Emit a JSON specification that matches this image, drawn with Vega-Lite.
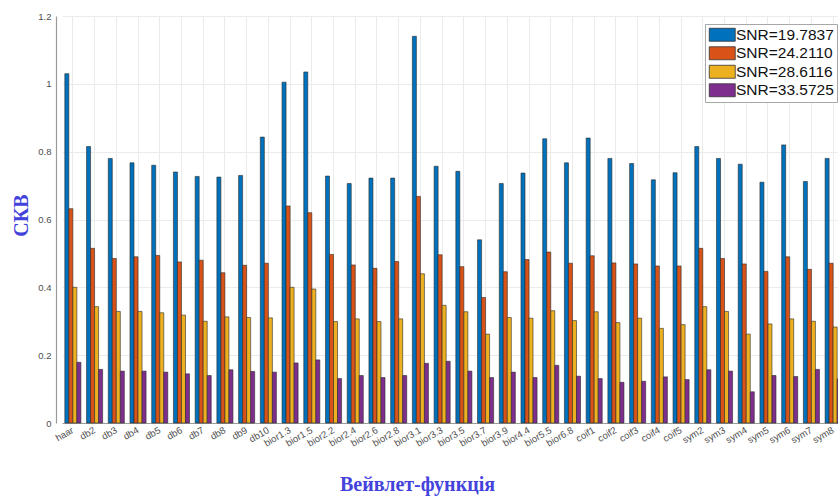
{
  "$schema": "https://vega.github.io/schema/vega-lite/v6.json",
  "width": 782,
  "height": 407,
  "autosize": {"type": "none"},
  "padding": {"left": 56, "top": 16, "right": 0, "bottom": 73},
  "background": "white",
  "config": {
    "view": {"stroke": null},
    "font": "Liberation Sans"
  },
  "datasets": {
    "rmse": [
      {"w": "haar", "s": "SNR=19.7837", "v": 1.03},
      {"w": "haar", "s": "SNR=24.2110", "v": 0.632},
      {"w": "haar", "s": "SNR=28.6116", "v": 0.40},
      {"w": "haar", "s": "SNR=33.5725", "v": 0.179},
      {"w": "db2", "s": "SNR=19.7837", "v": 0.815},
      {"w": "db2", "s": "SNR=24.2110", "v": 0.515},
      {"w": "db2", "s": "SNR=28.6116", "v": 0.343},
      {"w": "db2", "s": "SNR=33.5725", "v": 0.158},
      {"w": "db3", "s": "SNR=19.7837", "v": 0.78},
      {"w": "db3", "s": "SNR=24.2110", "v": 0.485},
      {"w": "db3", "s": "SNR=28.6116", "v": 0.329},
      {"w": "db3", "s": "SNR=33.5725", "v": 0.153},
      {"w": "db4", "s": "SNR=19.7837", "v": 0.767},
      {"w": "db4", "s": "SNR=24.2110", "v": 0.49},
      {"w": "db4", "s": "SNR=28.6116", "v": 0.329},
      {"w": "db4", "s": "SNR=33.5725", "v": 0.153},
      {"w": "db5", "s": "SNR=19.7837", "v": 0.76},
      {"w": "db5", "s": "SNR=24.2110", "v": 0.494},
      {"w": "db5", "s": "SNR=28.6116", "v": 0.325},
      {"w": "db5", "s": "SNR=33.5725", "v": 0.15},
      {"w": "db6", "s": "SNR=19.7837", "v": 0.74},
      {"w": "db6", "s": "SNR=24.2110", "v": 0.475},
      {"w": "db6", "s": "SNR=28.6116", "v": 0.318},
      {"w": "db6", "s": "SNR=33.5725", "v": 0.145},
      {"w": "db7", "s": "SNR=19.7837", "v": 0.727},
      {"w": "db7", "s": "SNR=24.2110", "v": 0.48},
      {"w": "db7", "s": "SNR=28.6116", "v": 0.30},
      {"w": "db7", "s": "SNR=33.5725", "v": 0.14},
      {"w": "db8", "s": "SNR=19.7837", "v": 0.725},
      {"w": "db8", "s": "SNR=24.2110", "v": 0.443},
      {"w": "db8", "s": "SNR=28.6116", "v": 0.313},
      {"w": "db8", "s": "SNR=33.5725", "v": 0.157},
      {"w": "db9", "s": "SNR=19.7837", "v": 0.73},
      {"w": "db9", "s": "SNR=24.2110", "v": 0.465},
      {"w": "db9", "s": "SNR=28.6116", "v": 0.311},
      {"w": "db9", "s": "SNR=33.5725", "v": 0.152},
      {"w": "db10", "s": "SNR=19.7837", "v": 0.843},
      {"w": "db10", "s": "SNR=24.2110", "v": 0.471},
      {"w": "db10", "s": "SNR=28.6116", "v": 0.31},
      {"w": "db10", "s": "SNR=33.5725", "v": 0.15},
      {"w": "bior1.3", "s": "SNR=19.7837", "v": 1.005},
      {"w": "bior1.3", "s": "SNR=24.2110", "v": 0.64},
      {"w": "bior1.3", "s": "SNR=28.6116", "v": 0.40},
      {"w": "bior1.3", "s": "SNR=33.5725", "v": 0.177},
      {"w": "bior1.5", "s": "SNR=19.7837", "v": 1.035},
      {"w": "bior1.5", "s": "SNR=24.2110", "v": 0.62},
      {"w": "bior1.5", "s": "SNR=28.6116", "v": 0.395},
      {"w": "bior1.5", "s": "SNR=33.5725", "v": 0.186},
      {"w": "bior2.2", "s": "SNR=19.7837", "v": 0.728},
      {"w": "bior2.2", "s": "SNR=24.2110", "v": 0.497},
      {"w": "bior2.2", "s": "SNR=28.6116", "v": 0.299},
      {"w": "bior2.2", "s": "SNR=33.5725", "v": 0.131},
      {"w": "bior2.4", "s": "SNR=19.7837", "v": 0.706},
      {"w": "bior2.4", "s": "SNR=24.2110", "v": 0.466},
      {"w": "bior2.4", "s": "SNR=28.6116", "v": 0.307},
      {"w": "bior2.4", "s": "SNR=33.5725", "v": 0.14},
      {"w": "bior2.6", "s": "SNR=19.7837", "v": 0.722},
      {"w": "bior2.6", "s": "SNR=24.2110", "v": 0.456},
      {"w": "bior2.6", "s": "SNR=28.6116", "v": 0.299},
      {"w": "bior2.6", "s": "SNR=33.5725", "v": 0.134},
      {"w": "bior2.8", "s": "SNR=19.7837", "v": 0.722},
      {"w": "bior2.8", "s": "SNR=24.2110", "v": 0.476},
      {"w": "bior2.8", "s": "SNR=28.6116", "v": 0.307},
      {"w": "bior2.8", "s": "SNR=33.5725", "v": 0.14},
      {"w": "bior3.1", "s": "SNR=19.7837", "v": 1.14},
      {"w": "bior3.1", "s": "SNR=24.2110", "v": 0.668},
      {"w": "bior3.1", "s": "SNR=28.6116", "v": 0.44},
      {"w": "bior3.1", "s": "SNR=33.5725", "v": 0.176},
      {"w": "bior3.3", "s": "SNR=19.7837", "v": 0.757},
      {"w": "bior3.3", "s": "SNR=24.2110", "v": 0.496},
      {"w": "bior3.3", "s": "SNR=28.6116", "v": 0.347},
      {"w": "bior3.3", "s": "SNR=33.5725", "v": 0.182},
      {"w": "bior3.5", "s": "SNR=19.7837", "v": 0.742},
      {"w": "bior3.5", "s": "SNR=24.2110", "v": 0.461},
      {"w": "bior3.5", "s": "SNR=28.6116", "v": 0.328},
      {"w": "bior3.5", "s": "SNR=33.5725", "v": 0.153},
      {"w": "bior3.7", "s": "SNR=19.7837", "v": 0.54},
      {"w": "bior3.7", "s": "SNR=24.2110", "v": 0.37},
      {"w": "bior3.7", "s": "SNR=28.6116", "v": 0.262},
      {"w": "bior3.7", "s": "SNR=33.5725", "v": 0.134},
      {"w": "bior3.9", "s": "SNR=19.7837", "v": 0.706},
      {"w": "bior3.9", "s": "SNR=24.2110", "v": 0.446},
      {"w": "bior3.9", "s": "SNR=28.6116", "v": 0.311},
      {"w": "bior3.9", "s": "SNR=33.5725", "v": 0.15},
      {"w": "bior4.4", "s": "SNR=19.7837", "v": 0.737},
      {"w": "bior4.4", "s": "SNR=24.2110", "v": 0.482},
      {"w": "bior4.4", "s": "SNR=28.6116", "v": 0.309},
      {"w": "bior4.4", "s": "SNR=33.5725", "v": 0.134},
      {"w": "bior5.5", "s": "SNR=19.7837", "v": 0.838},
      {"w": "bior5.5", "s": "SNR=24.2110", "v": 0.504},
      {"w": "bior5.5", "s": "SNR=28.6116", "v": 0.331},
      {"w": "bior5.5", "s": "SNR=33.5725", "v": 0.17},
      {"w": "bior6.8", "s": "SNR=19.7837", "v": 0.767},
      {"w": "bior6.8", "s": "SNR=24.2110", "v": 0.471},
      {"w": "bior6.8", "s": "SNR=28.6116", "v": 0.302},
      {"w": "bior6.8", "s": "SNR=33.5725", "v": 0.138},
      {"w": "coif1", "s": "SNR=19.7837", "v": 0.84},
      {"w": "coif1", "s": "SNR=24.2110", "v": 0.493},
      {"w": "coif1", "s": "SNR=28.6116", "v": 0.328},
      {"w": "coif1", "s": "SNR=33.5725", "v": 0.131},
      {"w": "coif2", "s": "SNR=19.7837", "v": 0.78},
      {"w": "coif2", "s": "SNR=24.2110", "v": 0.472},
      {"w": "coif2", "s": "SNR=28.6116", "v": 0.296},
      {"w": "coif2", "s": "SNR=33.5725", "v": 0.12},
      {"w": "coif3", "s": "SNR=19.7837", "v": 0.765},
      {"w": "coif3", "s": "SNR=24.2110", "v": 0.469},
      {"w": "coif3", "s": "SNR=28.6116", "v": 0.309},
      {"w": "coif3", "s": "SNR=33.5725", "v": 0.123},
      {"w": "coif4", "s": "SNR=19.7837", "v": 0.717},
      {"w": "coif4", "s": "SNR=24.2110", "v": 0.463},
      {"w": "coif4", "s": "SNR=28.6116", "v": 0.279},
      {"w": "coif4", "s": "SNR=33.5725", "v": 0.136},
      {"w": "coif5", "s": "SNR=19.7837", "v": 0.738},
      {"w": "coif5", "s": "SNR=24.2110", "v": 0.463},
      {"w": "coif5", "s": "SNR=28.6116", "v": 0.29},
      {"w": "coif5", "s": "SNR=33.5725", "v": 0.128},
      {"w": "sym2", "s": "SNR=19.7837", "v": 0.815},
      {"w": "sym2", "s": "SNR=24.2110", "v": 0.515},
      {"w": "sym2", "s": "SNR=28.6116", "v": 0.343},
      {"w": "sym2", "s": "SNR=33.5725", "v": 0.157},
      {"w": "sym3", "s": "SNR=19.7837", "v": 0.78},
      {"w": "sym3", "s": "SNR=24.2110", "v": 0.485},
      {"w": "sym3", "s": "SNR=28.6116", "v": 0.329},
      {"w": "sym3", "s": "SNR=33.5725", "v": 0.153},
      {"w": "sym4", "s": "SNR=19.7837", "v": 0.763},
      {"w": "sym4", "s": "SNR=24.2110", "v": 0.469},
      {"w": "sym4", "s": "SNR=28.6116", "v": 0.262},
      {"w": "sym4", "s": "SNR=33.5725", "v": 0.092},
      {"w": "sym5", "s": "SNR=19.7837", "v": 0.71},
      {"w": "sym5", "s": "SNR=24.2110", "v": 0.447},
      {"w": "sym5", "s": "SNR=28.6116", "v": 0.292},
      {"w": "sym5", "s": "SNR=33.5725", "v": 0.14},
      {"w": "sym6", "s": "SNR=19.7837", "v": 0.82},
      {"w": "sym6", "s": "SNR=24.2110", "v": 0.49},
      {"w": "sym6", "s": "SNR=28.6116", "v": 0.307},
      {"w": "sym6", "s": "SNR=33.5725", "v": 0.137},
      {"w": "sym7", "s": "SNR=19.7837", "v": 0.712},
      {"w": "sym7", "s": "SNR=24.2110", "v": 0.453},
      {"w": "sym7", "s": "SNR=28.6116", "v": 0.30},
      {"w": "sym7", "s": "SNR=33.5725", "v": 0.158},
      {"w": "sym8", "s": "SNR=19.7837", "v": 0.78},
      {"w": "sym8", "s": "SNR=24.2110", "v": 0.471},
      {"w": "sym8", "s": "SNR=28.6116", "v": 0.283},
      {"w": "sym8", "s": "SNR=33.5725", "v": 0.13}
    ]
  },
  "data": {"name": "rmse"},
  "mark": {"type": "bar", "stroke": "#2a2a2a", "strokeWidth": 0.6},
  "encoding": {
    "x": {
      "field": "w",
      "type": "nominal",
      "sort": null,
      "scale": {"range": [6, 788], "paddingInner": 0.26, "paddingOuter": 0.13},
      "axis": {
        "title": "Вейвлет-функція",
        "titleFont": "Liberation Serif",
        "titleFontSize": 20,
        "titleFontWeight": "bold",
        "titleColor": "#4343dc",
        "titleX": 361,
        "titleY": 67,
        "titleAnchor": null,
        "titleAlign": "center",
        "titleBaseline": "alphabetic",
        "labelAngle": -30,
        "labelAlign": "right",
        "labelBaseline": "middle",
        "labelFontSize": 9.5,
        "labelColor": "#4d4d4d",
        "labelPadding": 6,
        "ticks": false,
        "bandPosition": 0.5,
        "grid": true,
        "gridColor": "#ebebeb",
        "gridWidth": 1,
        "domainColor": "#9a9a9a",
        "domainWidth": 1.2
      }
    },
    "xOffset": {
      "field": "s",
      "type": "nominal",
      "sort": ["SNR=19.7837", "SNR=24.2110", "SNR=28.6116", "SNR=33.5725"],
      "scale": {"paddingInner": 0, "paddingOuter": 0}
    },
    "y": {
      "field": "v",
      "type": "quantitative",
      "scale": {"domain": [0, 1.2], "nice": false},
      "axis": {
        "values": [0, 0.2, 0.4, 0.6, 0.8, 1, 1.2],
        "format": ".1~f",
        "title": "СКВ",
        "titleFont": "Liberation Serif",
        "titleFontSize": 20,
        "titleFontWeight": "bold",
        "titleColor": "#4343dc",
        "titleAngle": 270,
        "titleX": -35,
        "titleY": 199,
        "titleAnchor": null,
        "titleAlign": "center",
        "titleBaseline": "middle",
        "labelFontSize": 9.5,
        "labelColor": "#4d4d4d",
        "labelPadding": 5,
        "ticks": false,
        "grid": true,
        "gridColor": "#ebebeb",
        "gridWidth": 1,
        "domainColor": "#9a9a9a",
        "domainWidth": 1.2
      }
    },
    "color": {
      "field": "s",
      "type": "nominal",
      "scale": {
        "domain": ["SNR=19.7837", "SNR=24.2110", "SNR=28.6116", "SNR=33.5725"],
        "range": ["#0072BD", "#D95319", "#EDB120", "#7E2F8E"]
      },
      "legend": {
        "title": null,
        "orient": "none",
        "legendX": 649,
        "legendY": 8,
        "fillColor": "white",
        "strokeColor": "#a8a8a8",
        "padding": 3,
        "symbolType": "M-2,-1H2V1H-2Z",
        "symbolSize": 169,
        "symbolOffset": 6.5,
        "symbolStrokeColor": "#333333",
        "symbolStrokeWidth": 0.8,
        "symbolOpacity": 1,
        "labelFontSize": 15.5,
        "labelColor": "#111111",
        "labelOffset": 6,
        "rowPadding": 0.5
      }
    }
  }
}
